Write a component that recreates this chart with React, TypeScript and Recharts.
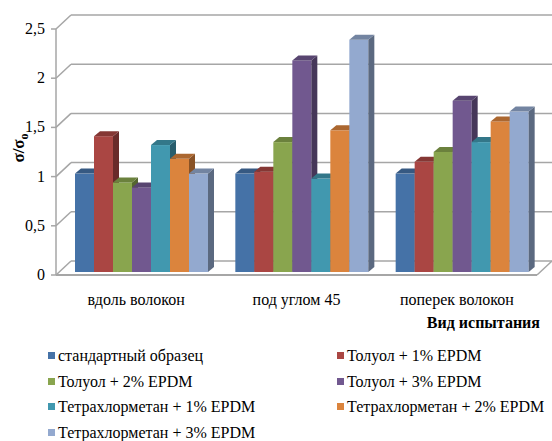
import React from 'react';
import { BarChart, Bar, XAxis, YAxis, CartesianGrid } from 'recharts';

// test directions (categories)
const testTypes = ['вдоль волокон', 'под углом 45', 'поперек волокон'];

// σ/σo for each treatment, one value per test direction
const standardSample = [1.0, 1.0, 1.0];
const toluene1 = [1.38, 1.02, 1.12];
const toluene2 = [0.91, 1.32, 1.22];
const toluene3 = [0.86, 2.15, 1.74];
const tetrachloromethane1 = [1.29, 0.95, 1.32];
const tetrachloromethane2 = [1.15, 1.44, 1.53];
const tetrachloromethane3 = [1.0, 2.36, 1.63];

const seriesNames = [
  'стандартный образец',
  'Толуол + 1% EPDM',
  'Толуол + 2% EPDM',
  'Толуол + 3% EPDM',
  'Тетрахлорметан + 1% EPDM',
  'Тетрахлорметан + 2% EPDM',
  'Тетрахлорметан + 3% EPDM',
];
const seriesValues = [
  standardSample,
  toluene1,
  toluene2,
  toluene3,
  tetrachloromethane1,
  tetrachloromethane2,
  tetrachloromethane3,
];
const seriesColors = ['#4572A7', '#AA4643', '#89A54E', '#71588F', '#4198AF', '#DB843D', '#93A9CF'];

const yTicks = [0, 0.5, 1, 1.5, 2, 2.5];

const chartData = testTypes.map((name, i) => {
  const row: Record<string, string | number> = { name };
  seriesValues.forEach((vals, s) => {
    row[`s${s}`] = vals[i];
  });
  return row;
});

// layout
const W = 552;
const H = 441;
const MARGIN = { top: 29, right: 15, bottom: 136, left: 0 };
const X_AXIS_H = 30;
const PLOT_BOTTOM = H - MARGIN.bottom - X_AXIS_H;
const FONT = '"Times New Roman"';
const GRID = '#a6a6a6';

// depth of the back wall and of the columns themselves
const WALL_DX = 15;
const WALL_DY = 14;
const BAR_SHIFT_X = 5;
const BAR_SHIFT_Y = 3;
const BAR_DX = 6;
const BAR_DY = 5;

const shade = (hex: string, f: number) => {
  const n = parseInt(hex.slice(1), 16);
  const r = Math.round(((n >> 16) & 255) * f);
  const g = Math.round(((n >> 8) & 255) * f);
  const b = Math.round((n & 255) * f);
  return `rgb(${r},${g},${b})`;
};

const Column3D = (props: any) => {
  const { x, y, width, height, fill } = props;
  if (!height || height <= 0) return null;
  const fx = x + BAR_SHIFT_X;
  const fy = y - BAR_SHIFT_Y;
  const side = `${fx + width},${fy} ${fx + width + BAR_DX},${fy - BAR_DY} ${fx + width + BAR_DX},${fy + height - BAR_DY} ${fx + width},${fy + height}`;
  const top = `${fx},${fy} ${fx + BAR_DX},${fy - BAR_DY} ${fx + width + BAR_DX},${fy - BAR_DY} ${fx + width},${fy}`;
  return (
    <g>
      <rect x={fx} y={fy} width={width} height={height} fill={fill} />
      <polygon points={side} fill={shade(fill, 0.62)} />
      <polygon points={top} fill={shade(fill, 0.78)} />
    </g>
  );
};

// wall gridline: short diagonal on the side wall, then the line along the back wall
const WallLine = (props: any) => {
  const { x1, y1, x2, index } = props;
  const isFloor = Math.abs(y1 - PLOT_BOTTOM) < 1;
  return (
    <g key={`wall-${index}`}>
      <line x1={x1} y1={y1} x2={x1 + WALL_DX} y2={y1 - WALL_DY} stroke={GRID} strokeWidth={1.5} />
      <line x1={x1 + WALL_DX} y1={y1 - WALL_DY} x2={x2 + WALL_DX} y2={y1 - WALL_DY} stroke={GRID} strokeWidth={1.5} />
      {isFloor && (
        <line x1={x2} y1={y1} x2={x2 + WALL_DX} y2={y1 - WALL_DY} stroke={GRID} strokeWidth={1.5} />
      )}
    </g>
  );
};

const YTick = (props: any) => {
  const { y, payload } = props;
  return (
    <text x={45} y={y} dy={5} textAnchor="end" fontFamily={FONT} fontSize={16} fill="#000">
      {String(payload.value).replace('.', ',')}
    </text>
  );
};

const XTick = (props: any) => {
  const { x, payload } = props;
  return (
    <text x={x} y={305} textAnchor="middle" fontFamily={FONT} fontSize={16} fill="#000">
      {payload.value}
    </text>
  );
};

const App = () => (
  <div style={{ position: 'absolute', left: 0, top: 0, width: W, height: H, background: '#fff' }}>
    <BarChart width={W} height={H} data={chartData} margin={MARGIN} barGap={0} barSize={19}>
      <CartesianGrid vertical={false} horizontal={WallLine} />
      <XAxis
        dataKey="name"
        height={X_AXIS_H}
        axisLine={{ stroke: GRID, strokeWidth: 2 }}
        tickLine={false}
        tick={XTick}
      />
      <YAxis
        width={56}
        domain={[0, 2.5]}
        ticks={yTicks}
        axisLine={{ stroke: GRID, strokeWidth: 1.5 }}
        tickLine={{ stroke: GRID, strokeWidth: 1.5 }}
        tickSize={5}
        tick={YTick}
      />
      {seriesNames.map((name, s) => (
        <Bar
          key={name}
          dataKey={`s${s}`}
          name={name}
          fill={seriesColors[s]}
          shape={Column3D}
          isAnimationActive={false}
        />
      ))}
    </BarChart>

    <svg
      width={W}
      height={H}
      style={{ position: 'absolute', left: 0, top: 0, pointerEvents: 'none' }}
    >
      <text
        transform="translate(24,148) rotate(-90)"
        textAnchor="middle"
        fontFamily={FONT}
        fontSize={17}
        fontWeight="bold"
        fill="#000"
      >
        σ/σ
        <tspan fontSize={12} dy={4}>о</tspan>
      </text>
      <text x={540} y={328} textAnchor="end" fontFamily={FONT} fontSize={16} fontWeight="bold" fill="#000">
        Вид испытания
      </text>
    </svg>

    {seriesNames.map((name, s) => {
      const col = s % 2;
      const row = Math.floor(s / 2);
      return (
        <div
          key={name}
          style={{
            position: 'absolute',
            left: col === 0 ? 48 : 337,
            top: 344 + row * 25.7,
            height: 24,
            lineHeight: '24px',
            fontFamily: FONT,
            fontSize: 16,
            color: '#000',
            whiteSpace: 'nowrap',
          }}
        >
          <span
            style={{
              width: 7,
              height: 7,
              background: seriesColors[s],
              marginRight: 3,
              display: 'inline-block',
              verticalAlign: 'middle',
              position: 'relative',
              top: -2,
            }}
          />
          {name}
        </div>
      );
    })}
  </div>
);

export default App;
